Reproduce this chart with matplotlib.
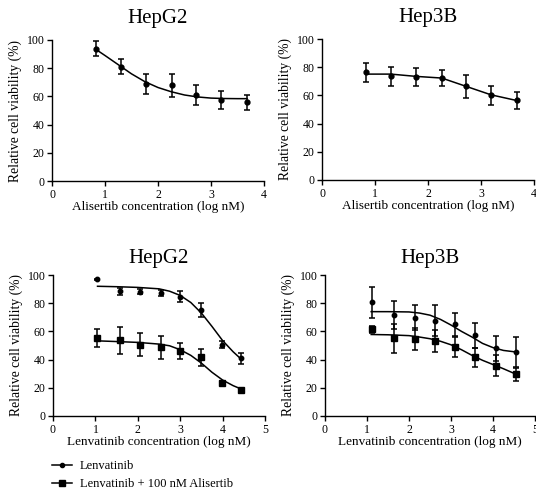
import matplotlib
matplotlib.use("Agg")
import matplotlib.pyplot as plt
from matplotlib.lines import Line2D

plt.rcParams["font.family"] = ["Liberation Serif", "DejaVu Serif"]

# --- Alisertib panels (top row) ---
ali_x = [0.83, 1.3, 1.77, 2.26, 2.72, 3.19, 3.67]
hepg2_ali_y = [93.8, 81, 69, 67.9, 61.2, 57.6, 56]
hepg2_ali_err = [5.3, 5.3, 7, 8.2, 7, 6.5, 5.3]
hepg2_ali_fit_x = [0.83, 1.0, 1.25, 1.5, 1.75, 2.0, 2.25, 2.5, 2.75, 3.0, 3.25, 3.5, 3.68]
hepg2_ali_fit_y = [93.3, 89, 82.5, 76, 70.5, 66.3, 63.3, 61, 59.6, 58.8, 58.5, 58.4, 58.4]

hep3b_ali_y = [76.3, 73.5, 73, 72.3, 66.4, 60, 56.4]
hep3b_ali_err = [7, 6.5, 6.4, 5.8, 8.3, 7, 5.8]
hep3b_ali_fit_x = [0.84, 1.3, 1.77, 2.26, 2.72, 3.19, 3.67]
hep3b_ali_fit_y = [75.1, 75.1, 73.5, 72.3, 66.4, 60.4, 56.4]

# --- Lenvatinib panels (bottom row) ---
hepg2_len_x = [1.04, 1.57, 2.05, 2.54, 3.0, 3.49, 3.98, 4.43]
hepg2_len_y = [96.9, 88.6, 88.2, 87, 84.6, 75.1, 50.7, 40.8]
hepg2_len_err = [0.5, 2.5, 2, 2.2, 3.7, 5, 2.3, 3.8]
hepg2_combo_y = [55, 53.8, 50.7, 48.6, 46, 41.5, 23.7, 18.7]
hepg2_combo_err = [6.4, 9.5, 8, 8.3, 5.7, 6.2, 1, 1]
hepg2_fit_x = [1.05, 1.5, 2.0, 2.5, 2.75, 3.0, 3.25, 3.5, 3.75, 4.0, 4.25, 4.45]
hepg2_len_fit_y = [92, 91.7, 91.2, 90.2, 88.5, 85.5, 80.5, 73, 63.5, 53.5, 45.5, 40]
hepg2_combo_fit_y = [53.3, 52.8, 52.2, 51, 49.8, 47, 43, 37.5, 31, 25.5, 21.5, 19]

hep3b_len_x = [1.12, 1.64, 2.14, 2.62, 3.1, 3.58, 4.06, 4.54]
hep3b_len_y = [80.6, 71.6, 69.7, 67.5, 64.9, 57.3, 47.9, 45.5]
hep3b_len_err = [11, 10, 9, 11, 8, 9, 9, 10.5]
hep3b_combo_y = [61.6, 55, 54.5, 53.1, 49, 41.5, 35.8, 29.6]
hep3b_combo_err = [2.4, 10, 7.7, 8, 7, 6.6, 7.7, 4.7]
hep3b_fit_x = [1.1, 1.5, 2.0, 2.25, 2.5, 2.75, 3.0, 3.25, 3.5, 3.75, 4.0, 4.25, 4.52]
hep3b_len_fit_y = [74, 74, 73.8, 73, 71.5, 68.5, 64.5, 60, 56, 51.5, 48.5, 46.5, 45.5]
hep3b_combo_fit_y = [57.8, 57.6, 57, 56, 54.8, 53, 50.5, 47, 43, 39.5, 36.5, 33.5, 30]

W, H = 536, 496
fig = plt.figure(figsize=(W / 100, H / 100), dpi=100)


def make_ax(left, right, bottom, top):
    # pixel box -> figure fraction
    return fig.add_axes([left / W, 1 - bottom / H, (right - left) / W, (bottom - top) / H])


def style(ax, title, xlabel, xmax, pad):
    ax.set_xlim(0, xmax)
    ax.set_ylim(0, 100)
    ax.set_xticks(range(0, xmax + 1))
    ax.set_yticks([0, 20, 40, 60, 80, 100])
    for s in ["top", "right"]:
        ax.spines[s].set_visible(False)
    for s in ["left", "bottom"]:
        ax.spines[s].set_linewidth(1.0)
    ax.tick_params(direction="out", length=3.5, width=1.0, labelsize=8.5, pad=2)
    ax.set_title(title, fontsize=15, pad=pad)
    ax.set_xlabel(xlabel, fontsize=9.5, labelpad=0)
    ax.set_ylabel("Relative cell viability (%)", fontsize=9.8, labelpad=3)


def series(ax, x, y, err, fx, fy, marker, ms):
    ax.errorbar(x, y, yerr=err, fmt="none", ecolor="black", elinewidth=1.1,
                capsize=2.5, capthick=1.1, clip_on=False)
    ax.plot(x, y, linestyle="none", marker=marker, ms=ms, color="black", clip_on=False)
    ax.plot(fx, fy, color="black", lw=1.1, clip_on=False)


ax1 = make_ax(52, 264, 181, 40)
series(ax1, ali_x, hepg2_ali_y, hepg2_ali_err, hepg2_ali_fit_x, hepg2_ali_fit_y, "o", 3.5)
style(ax1, "HepG2", "Alisertib concentration (log nM)", 4, 12)

ax2 = make_ax(322, 534, 180, 39)
series(ax2, ali_x, hep3b_ali_y, hep3b_ali_err, hep3b_ali_fit_x, hep3b_ali_fit_y, "o", 3.5)
style(ax2, "Hep3B", "Alisertib concentration (log nM)", 4, 12)

ax3 = make_ax(53, 265, 416, 275)
series(ax3, hepg2_len_x, hepg2_len_y, hepg2_len_err, hepg2_fit_x, hepg2_len_fit_y, "o", 3.2)
series(ax3, hepg2_len_x, hepg2_combo_y, hepg2_combo_err, hepg2_fit_x, hepg2_combo_fit_y, "s", 5)
style(ax3, "HepG2", "Lenvatinib concentration (log nM)", 5, 9)

ax4 = make_ax(325, 535, 416, 275)
series(ax4, hep3b_len_x, hep3b_len_y, hep3b_len_err, hep3b_fit_x, hep3b_len_fit_y, "o", 3.2)
series(ax4, hep3b_len_x, hep3b_combo_y, hep3b_combo_err, hep3b_fit_x, hep3b_combo_fit_y, "s", 5)
style(ax4, "Hep3B", "Lenvatinib concentration (log nM)", 5, 9)

# legende commune en bas a gauche
handles = [
    Line2D([], [], color="black", lw=1.1, marker="o", ms=3),
    Line2D([], [], color="black", lw=1.1, marker="s", ms=4.5),
]
fig.legend(handles, ["Lenvatinib", "Lenvatinib + 100 nM Alisertib"],
           loc="upper left", bbox_to_anchor=(52 / W, 1 - 460 / H), frameon=False,
           fontsize=9, handlelength=1.6, handletextpad=0.6, labelspacing=0.5,
           borderpad=0, borderaxespad=0)

fig.savefig("out.png", dpi=100)
